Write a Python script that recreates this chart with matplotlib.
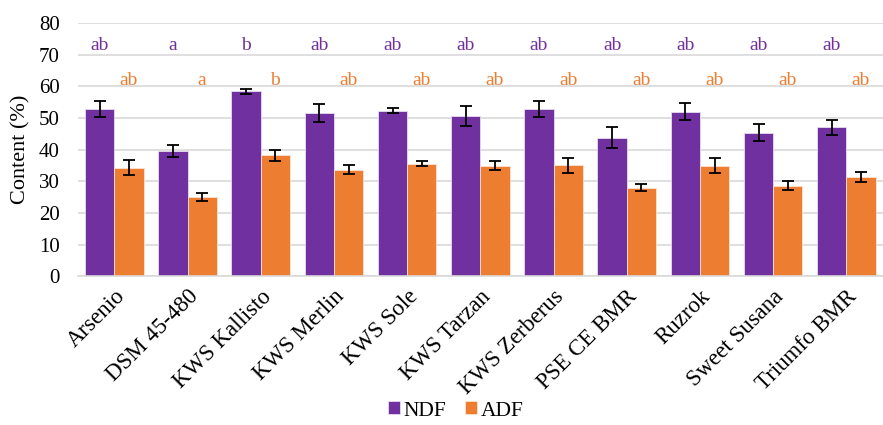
import numpy as np
import matplotlib.pyplot as plt

plt.rcParams['font.family'] = ['Liberation Serif', 'DejaVu Serif']

varieties = ["Arsenio", "DSM 45-480", "KWS Kallisto", "KWS Merlin", "KWS Sole",
             "KWS Tarzan", "KWS Zerberus", "PSE CE BMR", "Ruzrok", "Sweet Susana",
             "Triumfo BMR"]
ndf = [52.8, 39.5, 58.4, 51.5, 52.3, 50.6, 52.9, 43.8, 52.0, 45.4, 47.0]
ndf_err = [2.5, 1.9, 0.8, 2.9, 0.8, 3.2, 2.5, 3.3, 2.7, 2.7, 2.5]
adf = [34.3, 25.0, 38.2, 33.7, 35.6, 34.9, 35.0, 27.9, 34.9, 28.6, 31.4]
adf_err = [2.3, 1.3, 1.8, 1.3, 0.7, 1.4, 2.4, 1.1, 2.3, 1.5, 1.6]
ndf_letters = ["ab", "a", "b", "ab", "ab", "ab", "ab", "ab", "ab", "ab", "ab"]
adf_letters = ["ab", "a", "b", "ab", "ab", "ab", "ab", "ab", "ab", "ab", "ab"]

purple = "#7030A0"
orange = "#ED7D31"

fig, ax = plt.subplots(figsize=(8.83, 4.25), dpi=100)
fig.subplots_adjust(left=0.088, right=1.0, top=0.946, bottom=0.35)

x = np.arange(len(varieties))
w = 0.4
err_kw = dict(ecolor="black", elinewidth=1.3, capsize=4, capthick=1.3)
ax.bar(x - w / 2, ndf, w, yerr=ndf_err, color=purple, edgecolor="#e8ddf0",
       linewidth=0.6, label="NDF", error_kw=err_kw, zorder=2)
ax.bar(x + w / 2, adf, w, yerr=adf_err, color=orange, edgecolor="#fbe3d3",
       linewidth=0.6, label="ADF", error_kw=err_kw, zorder=2)

# significance letters above each series
for i in range(len(varieties)):
    ax.text(x[i] - w / 2, 73.0, ndf_letters[i], color=purple, ha="center",
            va="center", fontsize=14)
    ax.text(x[i] + w / 2, 61.7, adf_letters[i], color=orange, ha="center",
            va="center", fontsize=14)

ax.set_xlim(-0.5, len(varieties) - 0.5)
ax.set_ylim(0, 80)
ax.set_yticks(range(0, 81, 10))
ax.yaxis.grid(True, color="#d9d9d9", linewidth=1.2, zorder=0)
ax.set_axisbelow(True)
for s in ["top", "right", "left"]:
    ax.spines[s].set_visible(False)
ax.spines["bottom"].set_color("#d9d9d9")
ax.spines["bottom"].set_linewidth(1.2)
ax.tick_params(axis="y", length=0, labelsize=15, pad=13)
ax.tick_params(axis="x", length=0, labelsize=16.5, pad=7)
ax.set_xticks(x)
ax.set_xticklabels(varieties, rotation=45, ha="right", rotation_mode="anchor")
ax.set_ylabel("Content (%)", fontsize=16, labelpad=6)

fig.legend(loc="lower center", ncol=2, frameon=False, fontsize=15.5,
           handlelength=0.55, handleheight=0.55, handletextpad=0.15,
           columnspacing=0.9, bbox_to_anchor=(0.516, -0.035))

fig.savefig("out.png", dpi=100)
